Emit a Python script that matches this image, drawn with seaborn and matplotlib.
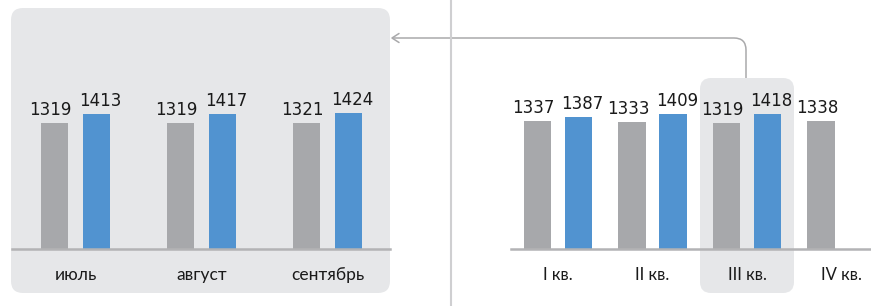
import numpy as np
import pandas as pd
import matplotlib
matplotlib.use("Agg")
import matplotlib.pyplot as plt
import seaborn as sns
from matplotlib.patches import FancyBboxPatch
from matplotlib.path import Path
from matplotlib.patches import PathPatch

# ---- data ----
months = ["июль", "август", "сентябрь"]
months_prev = [1319, 1319, 1321]
months_curr = [1413, 1417, 1424]

quarters = ["I кв.", "II кв.", "III кв.", "IV кв."]
quarters_prev = [1337, 1333, 1319, 1338]
quarters_curr = [1387, 1409, 1418, np.nan]

series_names = ["prev", "curr"]

GRAY = "#a7a8ab"
BLUE = "#5193d0"
PANEL = "#e6e7e9"
LINE = "#b3b3b5"
TXT = "#1a1a1a"

sns.set_theme(style="white")
plt.rcParams["font.family"] = ["Lato", "DejaVu Sans"]

W, H = 871, 306
fig = plt.figure(figsize=(W / 100, H / 100), dpi=100)
fig.patch.set_facecolor("white")

# background axes in pixel coordinates
bg = fig.add_axes([0, 0, 1, 1], zorder=0)
bg.set_xlim(0, W)
bg.set_ylim(H, 0)
bg.axis("off")

bg.add_patch(FancyBboxPatch((11 + 12, 8 + 12), 379 - 24, 285 - 24,
                            boxstyle="round,pad=12", fc=PANEL, ec="none"))
bg.add_patch(FancyBboxPatch((700 + 11, 78 + 11), 94 - 22, 215 - 22,
                            boxstyle="round,pad=11", fc=PANEL, ec="none"))
bg.plot([451, 451], [0, H], color="#cfcfd1", lw=1.5)

# connector arrow
verts = [(746, 78), (746, 50), (746, 38), (734, 38), (392, 38)]
codes = [Path.MOVETO, Path.LINETO, Path.CURVE3, Path.CURVE3, Path.LINETO]
bg.add_patch(PathPatch(Path(verts, codes), fc="none", ec="#a9a9ab", lw=1.1))
bg.plot([399, 392, 399], [33.5, 38, 42.5], color="#a9a9ab", lw=1.1)

PX_PER_UNIT = 126 / 1319.0
TOP_PX = 8
BASE_PX = 249
ymax = (BASE_PX - TOP_PX) / PX_PER_UNIT


def make_axes(x0, x1):
    return fig.add_axes([x0 / W, 1 - BASE_PX / H, (x1 - x0) / W,
                         (BASE_PX - TOP_PX) / H], zorder=2)


def draw(ax, cats, prev, curr, width, gap, xlim, fs):
    df = pd.DataFrame({
        "cat": cats * 2,
        "series": [series_names[0]] * len(cats) + [series_names[1]] * len(cats),
        "value": list(prev) + list(curr),
    })
    sns.barplot(data=df, x="cat", y="value", hue="series", order=cats,
                hue_order=series_names, palette=[GRAY, BLUE], width=width,
                gap=gap, saturation=1, legend=False, ax=ax, errorbar=None,
                linewidth=0)
    for ci, cont in enumerate(ax.containers):
        dx = -4 if ci == 0 else 4
        for bar, v in zip(cont, cont.datavalues):
            if np.isnan(v):
                continue
            ax.annotate(f"{int(v)}", (bar.get_x() + bar.get_width() / 2, v),
                        xytext=(dx, 4), textcoords="offset pixels",
                        ha="center", va="bottom", fontsize=12, color=TXT,
                        family=["DejaVu Sans"])
    ax.set_xlim(*xlim)
    ax.set_ylim(0, ymax)
    ax.patch.set_alpha(0)
    for s in ["top", "right", "left"]:
        ax.spines[s].set_visible(False)
    ax.spines["bottom"].set_color(LINE)
    ax.spines["bottom"].set_linewidth(1.8)
    ax.set_yticks([])
    ax.set_xlabel("")
    ax.set_ylabel("")
    ax.tick_params(axis="x", length=0, pad=13, labelsize=fs, colors=TXT)


axl = make_axes(12, 390)
draw(axl, months, months_prev, months_curr, 0.667, 0.357,
     ((12 - 75.5) / 126, (390 - 75.5) / 126), 12.5)

axr = make_axes(511, 871)
draw(axr, quarters, quarters_prev, quarters_curr, 0.867, 0.34,
     ((511 - 558) / 94.5, (871 - 558) / 94.5), 12)

fig.savefig("out.png", dpi=100, facecolor="white")
